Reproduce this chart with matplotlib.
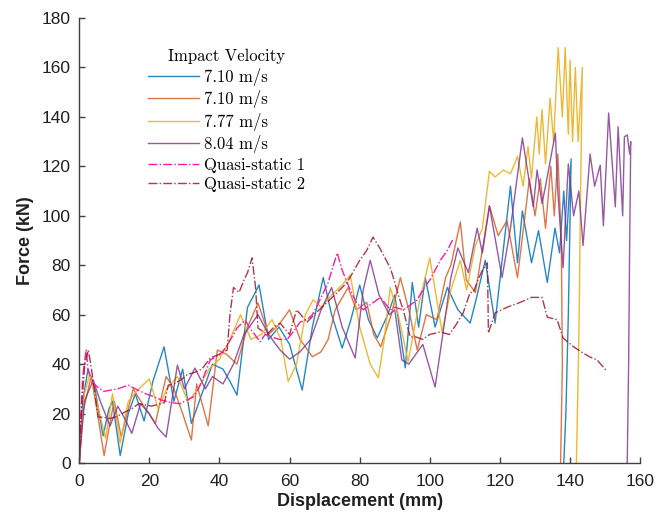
import numpy as np
import matplotlib
matplotlib.use('Agg')
import matplotlib.pyplot as plt

# Impact tests (displacement in mm, force in kN)
d_710a = [0, 1, 2.5, 4.5, 6.8, 8.5, 9.5, 11.7, 14, 16, 18.5, 21, 24.2, 27, 29.5, 32, 35, 38, 41, 43, 45,
          48, 51.3, 54, 57, 60, 63.6, 66.5, 69.6, 72, 75, 77.5, 80, 82.5, 85, 88, 90, 93, 95, 96.8, 98.7,
          101.5, 105, 108, 111.5, 113, 115.8, 118.6, 123, 125, 126.4, 129, 131, 133.5, 135.7, 137, 138.2,
          139, 140.3, 139.5, 138.8, 138.2]
f_710a = [0, 25, 38, 30, 11, 22, 25, 3, 20, 28, 17, 33, 47, 25, 38, 16, 28, 40, 38, 33, 27.5,
          63, 72, 50, 55, 48, 29.5, 55, 75, 60, 46.5, 58, 72, 58, 50.6, 60, 68, 38.5, 73, 55, 75,
          55, 71, 62, 56.6, 65, 82, 56.6, 112, 81, 102, 81, 94, 73, 95, 85, 110,
          90, 123, 60, 20, 0]

d_710b = [0, 1, 3.4, 5, 7.1, 9, 10, 12, 15.4, 18, 21.7, 24.8, 27, 29.5, 32, 33.5, 36.8, 39.4, 42, 45,
          48, 51, 54, 57, 60, 63, 66.5, 69, 71, 73, 76.7, 79, 82, 84, 86, 89, 91.6, 94, 96.4, 99, 102,
          104.5, 106, 108.7, 110.4, 113, 117, 119.5, 122, 125, 128.4, 130, 131.5, 133, 134.5, 135.5,
          136.5, 137.5, 137.8, 137.3]
f_710b = [0, 20, 35, 22, 3, 18, 25, 10.5, 30, 24, 16, 35, 30, 20, 9.3, 32, 15, 45.7, 44, 40,
          55, 64.7, 52, 56, 62, 50, 43, 45, 50, 62, 71, 62, 65, 52, 47, 60, 75, 62, 45.7, 60, 58,
          75, 80, 97.5, 74, 69, 104, 92, 98, 75, 115, 100, 115, 95, 120, 100,
          125, 90, 40, 0]

d_777 = [0, 1.5, 3, 5, 7.5, 9.5, 11.7, 14, 17, 20, 22.5, 25, 28, 31, 34, 37, 40, 43, 46, 49, 52, 55,
         57.5, 59.6, 62, 64.5, 66.7, 69, 72, 75, 77.3, 80, 83, 85.3, 87, 88.7, 91, 93.8, 97, 100, 103.5,
         106, 108.7, 110.5, 113, 115, 117, 118.6, 121, 123, 125, 126.6, 128, 129, 130.5, 131.2, 132,
         133, 134.3, 135.3, 136.6, 137.8, 138.6, 139.5, 140, 140.7, 141.5, 142.3, 143.5, 143, 142.6,
         142.2, 141.8]
f_777 = [0, 28, 36, 25, 10, 28, 8, 25, 30, 34, 22, 30, 35, 25, 30, 38, 42, 50, 60, 50, 52, 58,
         50, 33, 40, 60, 66, 63, 68, 72, 76, 55, 40, 34.5, 50, 71, 60, 41, 65, 83, 53,
         70, 82, 70, 88, 95, 118, 115.7, 118.5, 117, 124, 112, 128, 115, 140, 125, 143,
         121, 147.6, 130, 168, 140, 168, 133, 163, 130, 160, 130, 160, 110, 60,
         28, 0]

d_804 = [0, 1.5, 4, 6, 8.8, 11, 13, 15, 17.5, 20, 22.5, 24.8, 28, 30, 33, 36, 38, 41, 44, 47, 51, 54,
         57.3, 60, 63, 66, 69, 72, 75, 78.7, 81, 83, 85.5, 88.5, 90, 92, 94, 96, 98, 101.5, 104, 106,
         108, 111, 113.5, 115, 117, 120.6, 123, 126.4, 129.5, 130.6, 132, 133, 135.8, 136.5, 138,
         139.5, 141, 142.5, 143.7, 145.7, 147, 148.6, 149.5, 151, 152.9, 153.7, 155, 155.5, 156.3,
         157, 157.3, 157, 156.7, 156.3]
f_804 = [0, 25, 33.6, 25, 15, 23, 18, 12, 24, 20, 14, 10.5, 39.6, 30, 38.4, 30, 35, 32, 40, 52, 60, 52,
         45.7, 42, 45, 50, 62, 71, 55, 42.5, 70, 82, 68, 60, 62, 41.7, 40, 44, 48, 30.7, 55, 75,
         87, 77, 95, 85, 104, 75, 95, 131.5, 103.6, 118.5, 105, 112, 133.5, 110, 79,
         121, 100, 110, 88, 125, 112, 120.5, 96, 141.6, 103.6, 136, 100, 132, 132.7,
         125, 130, 89, 40, 0]

# Quasi-static tests
d_qs1 = [0, 0.5, 1, 2, 2.5, 3.5, 5, 7, 9, 11, 14, 16, 19, 21, 23.4, 26, 28.8, 30, 32.5, 34, 35.5,
         37.4, 40, 42, 45, 47.3, 49, 51.6, 53, 55, 57, 59.3, 61, 63, 65, 66.5, 68, 71, 72.5, 73.6,
         75, 77.3, 79, 81, 83, 85.9, 88.7, 90, 92.5, 94.5, 96.4, 98, 100, 103, 105, 106.4, 107]
f_qs1 = [0, 20, 35, 46, 38, 33, 31, 29, 29.5, 30, 31.5, 30, 28, 27, 25.5, 24.5, 24, 25, 26.7, 30, 35,
         41.7, 43.7, 47, 54.6, 57.8, 54, 49, 52, 51, 50, 50, 53, 57, 58, 60, 64, 73, 80, 85,
         78, 70, 65, 62, 64, 67, 62, 63, 62, 64, 66, 70, 74, 82, 86, 90, 91]

d_qs2 = [0, 0.8, 1.6, 2.6, 3.4, 4.3, 5.4, 7, 9, 11, 13, 15, 17, 20.6, 24.3, 25.4, 27, 29, 31, 32.5,
         35, 37.4, 40, 42.2, 43, 44, 45.6, 47, 48, 49.3, 50.3, 51, 53.6, 55.5, 57.3, 60, 62, 65, 67,
         70, 73.6, 76.4, 78, 80, 82, 83.8, 85.7, 88.7, 89.6, 91, 92.4, 94.4, 96, 98, 100, 103, 105.6,
         107.5, 109.5, 111.5, 112.4, 114, 115, 116.4, 116.6, 116.7, 118.6, 122, 125.8, 129, 132,
         133.5, 136.3, 138, 141, 143.7, 145.5, 147.7, 150.6]
f_qs2 = [0, 25, 40, 45.7, 39, 30, 18.6, 18.5, 18, 19, 20.6, 22, 24, 23, 24.4, 31.5, 32, 33.6, 36, 36.4,
         38, 42.5, 44, 45.7, 60, 71, 69, 74, 77, 83, 71, 54.6, 52, 55, 56.6, 52, 62, 57, 60,
         64, 69, 73, 77, 82, 86, 91.4, 87, 79, 75, 68, 62, 51, 51, 50, 52, 53, 52,
         56, 60.7, 69, 69, 75, 78, 81, 65, 52.6, 60.7, 63, 65, 67, 67,
         59, 58, 50.6, 47, 44.5, 43, 41.7, 37]

labels = ['7.10 m/s', '7.10 m/s', '7.77 m/s', '8.04 m/s', 'Quasi-static 1', 'Quasi-static 2']

fig = plt.figure(figsize=(6.6, 5.17), dpi=100)
ax = fig.add_axes([0.12, 0.1044, 0.85, 0.8607])

ax.plot(d_710a, f_710a, '-', color='#0072BD', lw=1.0, alpha=0.85, label=labels[0])
ax.plot(d_710b, f_710b, '-', color='#D95319', lw=1.0, alpha=0.8, label=labels[1])
ax.plot(d_777, f_777, '-', color='#EDB120', lw=1.0, alpha=0.9, label=labels[2])
ax.plot(d_804, f_804, '-', color='#7E2F8E', lw=1.0, alpha=0.8, label=labels[3])
ax.plot(d_qs1, f_qs1, '-.', color='#FF1AA8', lw=1.0, label=labels[4])
ax.plot(d_qs2, f_qs2, '-.', color='#A2142F', lw=1.0, alpha=0.85, label=labels[5])

ax.set_xlim(0, 160)
ax.set_ylim(0, 180)
ax.set_xticks(np.arange(0, 161, 20))
ax.set_yticks(np.arange(0, 181, 20))
for s in ['top', 'right']:
    ax.spines[s].set_visible(False)
for s in ['left', 'bottom']:
    ax.spines[s].set_color('#404040')
    ax.spines[s].set_linewidth(1.0)
ax.tick_params(direction='in', length=4, width=1, color='#404040', labelsize=12.5)
ax.tick_params(axis='x', pad=8)
ax.tick_params(axis='y', pad=6)
for t in ax.get_xticklabels() + ax.get_yticklabels():
    t.set_fontfamily('Liberation Sans')
    t.set_color('#202020')

ax.set_xlabel('Displacement (mm)', fontsize=13, fontweight='bold', family='Liberation Sans',
              color='#202020', labelpad=3)
ax.set_ylabel('Force (kN)', fontsize=13, fontweight='bold', family='Liberation Sans',
              color='#202020', labelpad=6)

leg = ax.legend(loc='upper left', bbox_to_anchor=(0.11, 0.947), frameon=False,
                title='Impact Velocity', prop={'family': 'cmr10', 'size': 12},
                handlelength=3.1, handletextpad=0.3, labelspacing=0.26, borderaxespad=0)
leg.get_title().set_fontfamily('cmr10')
leg.get_title().set_fontsize(12)

plt.savefig('out.png', dpi=100)
